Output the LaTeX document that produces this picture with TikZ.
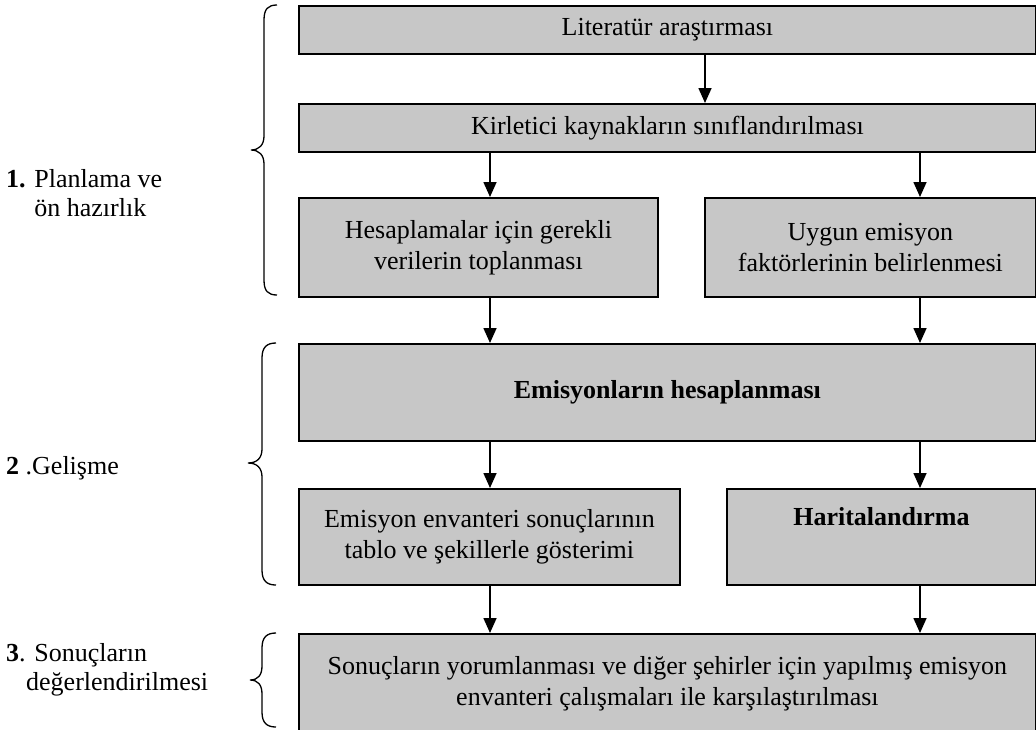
\documentclass[tikz,border=0pt]{standalone}
\usepackage{fontspec}
\setmainfont{Liberation Serif}
\usetikzlibrary{arrows.meta}
\definecolor{boxgray}{gray}{0.78}
\begin{document}
\begin{tikzpicture}[x=1pt,y=-1pt,
  box/.style={draw=black, line width=1.8pt, fill=boxgray, align=center, inner sep=0pt,
    font=\fontsize{26}{31}\selectfont, anchor=north west},
  arr/.style={line width=1.6pt, -{Triangle[length=15pt,width=13pt]}},
  brc/.style={line width=1.3pt},
  lab/.style={font=\fontsize{26}{29}\selectfont, align=left, anchor=west, inner sep=0pt}]
\useasboundingbox (0,0) rectangle (1036,729);
\clip (0,0) rectangle (1036,729);
\fill[white] (0,0) rectangle (1036,729);

% boxes
\node[box, minimum width=737pt, minimum height=48pt] (b1) at (298,5) {Literatür araştırması};
\node[box, minimum width=737pt, minimum height=48pt] (b2) at (298,103) {Kirletici kaynakların sınıflandırılması};
\node[box, minimum width=359pt, minimum height=99pt] (b3a) at (298,197) {Hesaplamalar için gerekli\\verilerin toplanması};
\node[box, minimum width=331pt, minimum height=99pt] (b3b) at (704,197) {Uygun emisyon\\faktörlerinin belirlenmesi};
\node[box, minimum width=737pt, minimum height=97pt] (b4) at (298,343) {\textbf{Emisyonların hesaplanması}};
\node[box, minimum width=381pt, minimum height=96pt] (b5a) at (298,488) {Emisyon envanteri sonuçlarının\\tablo ve şekillerle gösterimi};
\node[box, minimum width=309pt, minimum height=96pt] (b5b) at (726,488) {\textbf{Haritalandırma}\\\strut};
\node[box, minimum width=737pt, minimum height=100pt] (b6) at (298,633) {Sonuçların yorumlanması ve diğer şehirler için yapılmış emisyon\\envanteri çalışmaları ile karşılaştırılması};

% arrow columns
\coordinate (cA) at (705,0);
\coordinate (cL) at (490,0);
\coordinate (cR) at (920,0);

\draw[arr] (b1.south -| cA) -- (b2.north -| cA);
\draw[arr] (b2.south -| cL) -- (b3a.north -| cL);
\draw[arr] (b2.south -| cR) -- (b3b.north -| cR);
\draw[arr] (b3a.south -| cL) -- (b4.north -| cL);
\draw[arr] (b3b.south -| cR) -- (b4.north -| cR);
\draw[arr] (b4.south -| cL) -- (b5a.north -| cL);
\draw[arr] (b4.south -| cR) -- (b5b.north -| cR);
\draw[arr] (b5a.south -| cL) -- (b6.north -| cL);
\draw[arr] (b5b.south -| cR) -- (b6.north -| cR);

% braces
\draw[brc] (277,5) .. controls (268,5) and (264,9) .. (264,20) -- (264,136)
  .. controls (264,145) and (259,150) .. (251,150)
  .. controls (259,150) and (264,155) .. (264,164) -- (264,280)
  .. controls (264,291) and (268,295) .. (277,295);
\draw[brc] (276,343) .. controls (267,343) and (262,347) .. (262,358) -- (262,449)
  .. controls (262,458) and (257,463) .. (248,463)
  .. controls (257,463) and (262,468) .. (262,477) -- (262,570)
  .. controls (262,581) and (267,585) .. (276,585);
\draw[brc] (276,633) .. controls (267,633) and (262,637) .. (262,648) -- (262,666)
  .. controls (262,675) and (258,680) .. (250,680)
  .. controls (258,680) and (262,685) .. (262,694) -- (262,712)
  .. controls (262,723) and (267,727) .. (276,727);

% stage labels
\node[lab] (l1) at (6,193) {\textbf{1.} Planlama ve\\\hphantom{\textbf{1.} }ön hazırlık};
\node[lab] (l2) at (6,468) {\textbf{2} .Gelişme};
\node[lab] (l3) at (6,670) {\textbf{3}. Sonuçların\\\hspace*{20pt}değerlendirilmesi};
\end{tikzpicture}
\end{document}
